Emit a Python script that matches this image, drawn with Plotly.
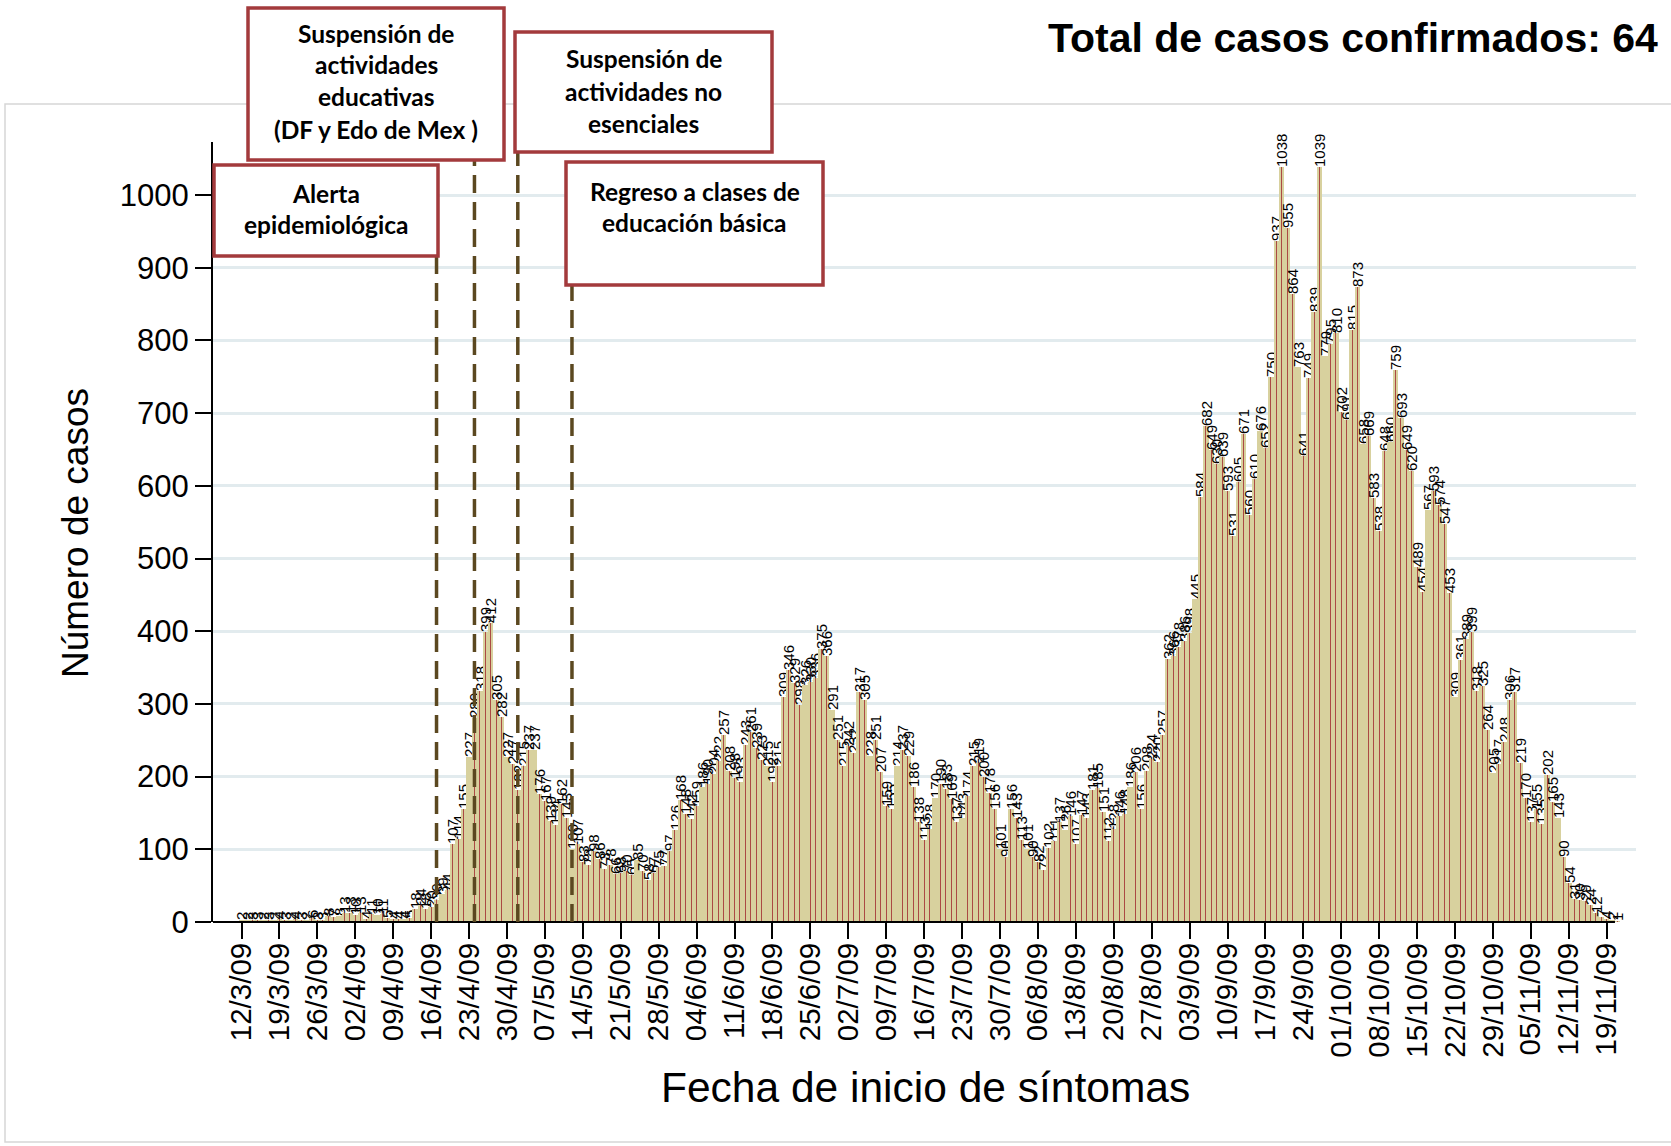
import plotly.graph_objects as go
import pandas as pd

# ---------------- data (daily confirmed cases by symptom onset) ----------------
mar = [2, 2, 3, 3, 2, 3, 2, 4, 3, 2, 4, 3, 2, 6, 3, 3, 8, 7, 8, 13]
apr = [13, 10, 13, 4, 11, 10, 11, 5, 4, 4, 4, 5, 18, 24, 18, 20, 30, 39, 44, 107,
       114, 155, 227, 280, 318, 399, 412, 305, 282, 227]
may = [217, 182, 215, 237, 237, 176, 167, 139, 134, 162, 143, 100, 107, 83, 78, 98,
       86, 73, 78, 66, 68, 70, 65, 85, 70, 58, 67, 75, 77, 97, 126]
jun = [168, 148, 142, 159, 186, 190, 204, 222, 257, 208, 198, 193, 243, 261, 239,
       223, 215, 192, 215, 309, 346, 329, 298, 326, 330, 336, 375, 366, 291, 251]
jul = [215, 242, 232, 317, 305, 228, 251, 207, 159, 155, 214, 237, 229, 186, 138,
       113, 128, 170, 190, 183, 169, 137, 143, 174, 215, 219, 200, 178, 156, 101, 90]
aug = [156, 143, 113, 101, 90, 82, 72, 102, 111, 137, 126, 146, 107, 147, 143, 181,
       185, 151, 112, 128, 146, 148, 186, 206, 156, 208, 224, 220, 257, 362, 366]
sep = [378, 386, 398, 445, 584, 682, 649, 630, 639, 593, 531, 605, 671, 560, 610,
       676, 652, 750, 937, 1038, 955, 864, 763, 641, 749, 839, 1039, 779, 795, 810]
oct_ = [702, 691, 815, 873, 658, 669, 583, 538, 648, 660, 759, 693, 649, 620, 489,
        454, 567, 593, 574, 547, 453, 309, 361, 389, 399, 318, 325, 264, 205, 217, 248]
nov = [306, 317, 219, 170, 137, 155, 135, 202, 165, 143, 90, 54, 31, 30, 29, 24,
       12, 7, 4, 2, 1]

casos = mar + apr + may + jun + jul + aug + sep + oct_ + nov
fechas = pd.date_range("2009-03-12", periods=len(casos), freq="D")
dia = [(f - fechas[0]).days for f in fechas]

tick_labels = ["12/3/09", "19/3/09", "26/3/09", "02/4/09", "09/4/09", "16/4/09",
               "23/4/09", "30/4/09", "07/5/09", "14/5/09", "21/5/09", "28/5/09",
               "04/6/09", "11/6/09", "18/6/09", "25/6/09", "02/7/09", "09/7/09",
               "16/7/09", "23/7/09", "30/7/09", "06/8/09", "13/8/09", "20/8/09",
               "27/8/09", "03/9/09", "10/9/09", "17/9/09", "24/9/09", "01/10/09",
               "08/10/09", "15/10/09", "22/10/09", "29/10/09", "05/11/09",
               "12/11/09", "19/11/09"]
tick_vals = dia[::7][:len(tick_labels)]

y_ticks = [0, 100, 200, 300, 400, 500, 600, 700, 800, 900, 1000]

# events: date, text lines, box (left, top, right, bottom in px), line centres (px)
eventos = [
    ("2009-04-17", ["Alerta", "epidemiológica"], (214, 165, 438, 256), [193, 225]),
    ("2009-04-24", ["Suspensión de", "actividades", "educativas", "(DF y Edo de Mex )"],
     (248, 8, 504, 160), [33, 65, 97, 129]),
    ("2009-05-02", ["Suspensión de", "actividades no", "esenciales"],
     (515, 32, 772, 152), [59, 91, 123]),
    ("2009-05-12", ["Regreso a clases de", "educación básica"],
     (566, 162, 823, 285), [191, 223]),
]

# ---------------- layout geometry ----------------
W, H = 1671, 1146
L, R, T, B = 213, 1636, 142, 922
X_RANGE = [-5.26, 257.4]
Y_MAX = 1073


def px_x(px):
    return (px - L) / (R - L)


def px_y(py):
    return (B - py) / (B - T)


TAN = "#d8d19e"
RED = "rgba(160,40,45,0.8)"
FONT = "Liberation Sans, Arial, sans-serif"

fig = go.Figure()
fig.add_bar(
    x=dia, y=casos, width=1,
    marker=dict(color=TAN, line=dict(width=0)),
    text=[str(v) for v in casos], textposition="outside", textangle=-90,
    textfont=dict(size=15, color="black", family=FONT),
    constraintext="none", cliponaxis=False, hoverinfo="skip",
)
fig.add_bar(
    x=dia, y=casos, width=0.16,
    marker=dict(color=RED, line=dict(width=0)), hoverinfo="skip",
)

shapes = []
# outer light frame
shapes.append(dict(type="rect", xref="paper", yref="paper",
                   x0=px_x(5), x1=px_x(1700), y0=px_y(1142), y1=px_y(104),
                   line=dict(color="#d6d6d6", width=1.5), layer="below"))
# x baseline
shapes.append(dict(type="line", xref="paper", yref="paper",
                   x0=0, x1=px_x(241.5 + 5.418 * 253.5), y0=0, y1=0,
                   line=dict(color="black", width=2), layer="above"))

annotations = []
for fecha, lineas, (bl, bt, br, bb), centros in eventos:
    d = (pd.Timestamp(fecha) - fechas[0]).days
    shapes.append(dict(type="line", xref="x", yref="paper", x0=d, x1=d,
                       y0=0, y1=px_y(bb),
                       line=dict(color="#5b4820", width=3.5, dash="18px,9px"),
                       layer="above"))
    shapes.append(dict(type="rect", xref="paper", yref="paper",
                       x0=px_x(bl), x1=px_x(br), y0=px_y(bb), y1=px_y(bt),
                       line=dict(color="#a33a3c", width=3.5), fillcolor="white",
                       layer="above"))
    for ln, yy in zip(lineas, centros):
        annotations.append(dict(xref="paper", yref="paper", x=px_x((bl + br) / 2),
                                y=px_y(yy), text="<b>" + ln + "</b>",
                                showarrow=False, xanchor="center", yanchor="middle",
                                font=dict(family="Lato, Carlito, sans-serif", size=24.5,
                                          color="black")))

annotations.append(dict(xref="paper", yref="paper", x=px_x(1046), y=px_y(38),
                        text="<b>Total de casos confirmados: 64</b>", showarrow=False,
                        xanchor="left", yanchor="middle",
                        font=dict(family=FONT, size=41, color="black")))
annotations.append(dict(xref="paper", yref="paper", x=px_x(75), y=px_y(533),
                        text="Número de casos", textangle=-90, showarrow=False,
                        xanchor="center", yanchor="middle",
                        font=dict(family=FONT, size=37, color="black")))
annotations.append(dict(xref="paper", yref="paper", x=px_x(925), y=px_y(1087),
                        text="Fecha de inicio de síntomas", showarrow=False,
                        xanchor="center", yanchor="middle",
                        font=dict(family=FONT, size=42.5, color="black")))

fig.update_layout(
    width=W, height=H, autosize=False,
    margin=dict(l=L, r=W - R, t=T, b=H - B, pad=0),
    paper_bgcolor="white", plot_bgcolor="white",
    barmode="overlay", bargap=0, showlegend=False,
    shapes=shapes, annotations=annotations,
    font=dict(family=FONT, color="black"),
    xaxis=dict(range=X_RANGE, tickmode="array", tickvals=tick_vals,
               ticktext=tick_labels, tickangle=-90, ticks="outside", ticklen=16,
               tickwidth=2, tickcolor="black", showgrid=False, zeroline=False,
               showline=False, ticklabelstandoff=-8,
               tickfont=dict(size=29.5, family=FONT, color="black")),
    yaxis=dict(range=[0, Y_MAX], tickmode="array", tickvals=y_ticks,
               ticks="outside", ticklen=16, tickwidth=2, tickcolor="black",
               showline=True, linewidth=2, linecolor="black",
               showgrid=True, gridcolor="#e2ebee", gridwidth=2.5, zeroline=False,
               tickfont=dict(size=31, family=FONT, color="black")),
)

fig.write_html("out.html", config={"displayModeBar": False},
               post_script="document.body.style.margin='0';document.body.style.overflow='hidden';")
